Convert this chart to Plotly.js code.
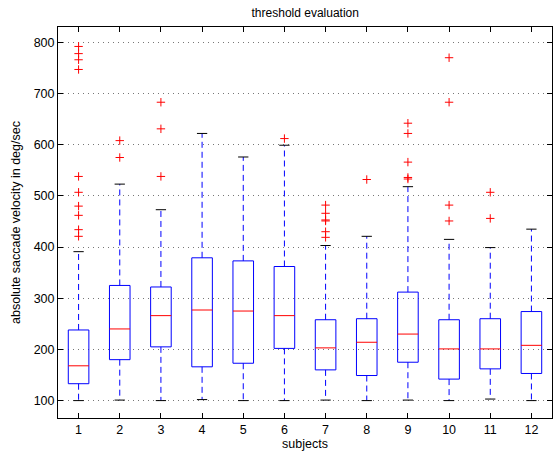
<!DOCTYPE html>
<html>
<head>
<meta charset="utf-8">
<script src="https://cdn.plot.ly/plotly-3.0.1.min.js"></script>
<style>html,body{margin:0;padding:0;background:#fff;}#chart{width:553px;height:453px;}</style>
</head>
<body>
<div id="chart"></div>
<script>
const subjects = [1,2,3,4,5,6,7,8,9,10,11,12];
const lowerWhisker = [100,101,100,102,100,100,101,100,101,100,103,100];
const q1 =           [133,180,205,166,173,202,160,149,175,142,162,153];
const medians =      [168,240,266,277,275,266,203,214,230,201,201,208];
const q3 =           [238,325,322,379,373,362,258,260,312,258,260,274];
const upperWhisker = [391,523,473,622,576,599,403,421,518,415,399,435];
const outliers = [
  [792,778,766,747,538,507,480,462,434,421],
  [608,575],
  [683,631,538],
  [],
  [],
  [612],
  [482,466,453,451,430,419],
  [532],
  [642,622,566,536,533],
  [770,683,482,451],
  [507,456],
  []
];

const boxHalf = 0.25, capHalf = 0.125;
const bx=[],by=[],mx=[],my=[],wx=[],wy=[],cx=[],cy=[],ox=[],oy=[];
subjects.forEach((s,i)=>{
  bx.push(s-boxHalf,s+boxHalf,s+boxHalf,s-boxHalf,s-boxHalf,null);
  by.push(q1[i],q1[i],q3[i],q3[i],q1[i],null);
  mx.push(s-boxHalf,s+boxHalf,null); my.push(medians[i],medians[i],null);
  wx.push(s,s,null,s,s,null); wy.push(q3[i],upperWhisker[i],null,q1[i],lowerWhisker[i],null);
  cx.push(s-capHalf,s+capHalf,null,s-capHalf,s+capHalf,null);
  cy.push(upperWhisker[i],upperWhisker[i],null,lowerWhisker[i],lowerWhisker[i],null);
  outliers[i].forEach(v=>{ox.push(s);oy.push(v);});
});

const traces = [
  {type:'scatter',mode:'lines',x:wx,y:wy,line:{color:'#0000ff',width:1,dash:'6px,4px'},hoverinfo:'skip'},
  {type:'scatter',mode:'lines',x:cx,y:cy,line:{color:'#000000',width:1},hoverinfo:'skip'},
  {type:'scatter',mode:'lines',x:bx,y:by,line:{color:'#0000ff',width:1},hoverinfo:'skip'},
  {type:'scatter',mode:'lines',x:mx,y:my,line:{color:'#ff0000',width:1},hoverinfo:'skip'},
  {type:'scatter',mode:'markers',x:ox,y:oy,marker:{symbol:'cross-thin-open',size:6,color:'#ff0000',line:{color:'#ff0000',width:1}},hoverinfo:'skip'}
];

const font = {family:'Liberation Sans, Arial, sans-serif', size:12.5, color:'#000'};
const layout = {
  width:553, height:453,
  margin:{l:58,r:1,t:27,b:35},
  paper_bgcolor:'#fff', plot_bgcolor:'#fff',
  showlegend:false,
  font: font,
  title:{text:'threshold evaluation', font:{family:font.family,size:12,color:'#000'}, x:0.552, xanchor:'center', y:0.971, yanchor:'middle'},
  xaxis:{
    range:[0.5,12.5], tickvals:subjects, ticktext:subjects.map(String),
    ticks:'inside', ticklen:5, tickcolor:'#000', mirror:'ticks',
    showline:true, linecolor:'#000', linewidth:1,
    showgrid:false, zeroline:false,
    tickfont:font,
    title:{text:'subjects', font:font, standoff:2}
  },
  yaxis:{
    range:[66,830], tickvals:[100,200,300,400,500,600,700,800],
    ticks:'inside', ticklen:5, tickcolor:'#000', mirror:'ticks',
    showline:true, linecolor:'#000', linewidth:1,
    showgrid:true, gridcolor:'#777', griddash:'1px,4px', gridwidth:1,
    zeroline:false,
    tickfont:font,
    title:{text:'absolute saccade velocity in deg/sec', font:font, standoff:10}
  }
};
Plotly.newPlot('chart', traces, layout, {staticPlot:true, displayModeBar:false});
</script>
</body>
</html>
